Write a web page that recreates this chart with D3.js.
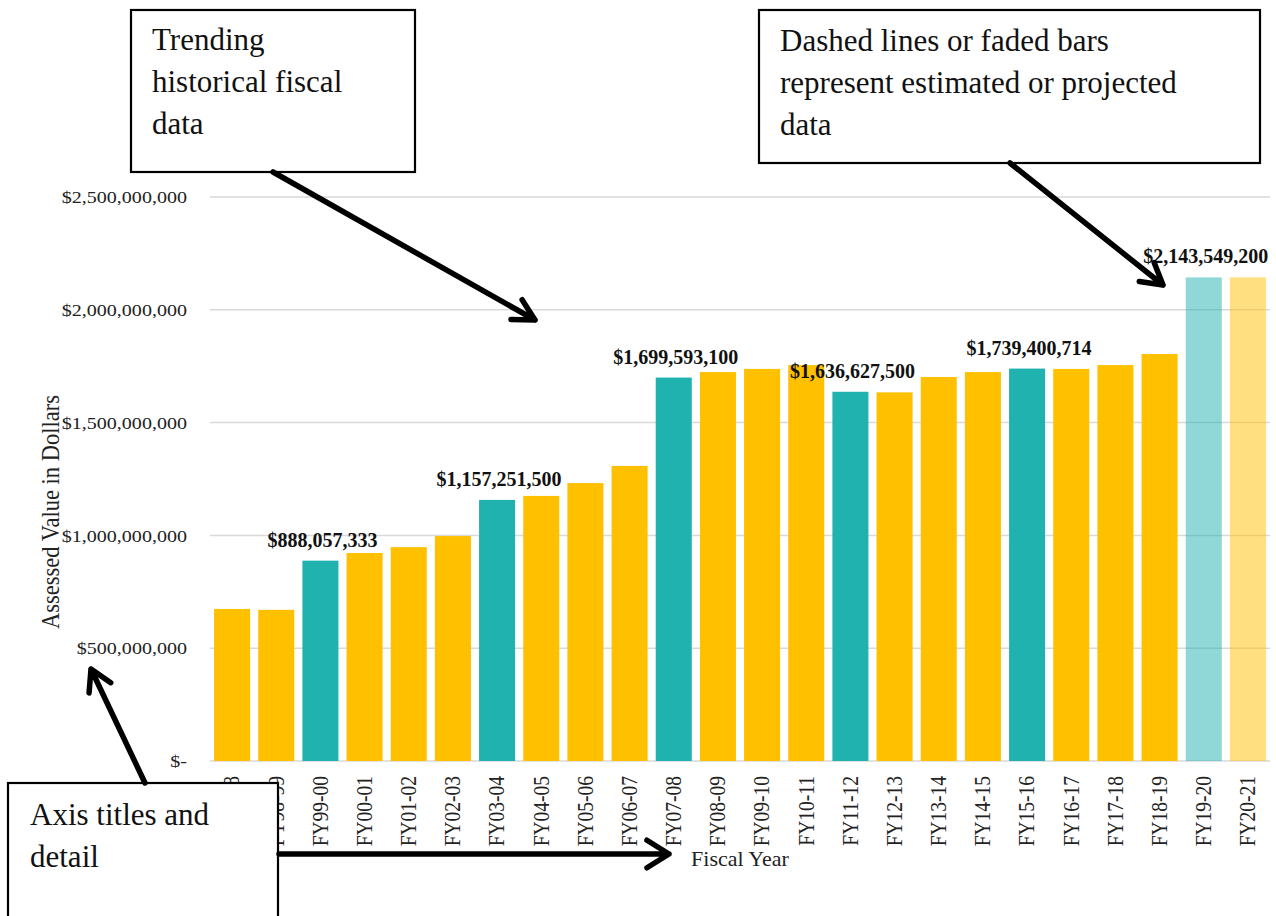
<!DOCTYPE html>
<html>
<head>
<meta charset="utf-8">
<script src="https://cdn.jsdelivr.net/npm/d3@7"></script>
<style>
  html, body { margin: 0; padding: 0; background: #fff; }
  svg { display: block; font-family: "Liberation Serif", "Times New Roman", serif; }
</style>
</head>
<body>
<svg id="chart" width="1276" height="916"></svg>
<script>
// ---- data ----
const categories = ["FY97-98","FY98-99","FY99-00","FY00-01","FY01-02","FY02-03","FY03-04","FY04-05",
  "FY05-06","FY06-07","FY07-08","FY08-09","FY09-10","FY10-11","FY11-12","FY12-13","FY13-14",
  "FY14-15","FY15-16","FY16-17","FY17-18","FY18-19","FY19-20","FY20-21"];
const values = [674000000, 670000000, 888057333, 922000000, 948000000, 997000000, 1157251500, 1175000000,
  1232000000, 1308000000, 1699593100, 1724000000, 1738000000, 1755000000, 1636627500, 1634000000, 1702000000,
  1724000000, 1739400714, 1738000000, 1755000000, 1804000000, 2143549200, 2143549200];
// reassessment years (teal) and projected (faded)
const reassessment = [false,false,true,false,false,false,true,false,false,false,true,false,false,false,true,false,false,false,true,false,false,false,true,false];
const projected = [false,false,false,false,false,false,false,false,false,false,false,false,false,false,false,false,false,false,false,false,false,false,true,true];
const yTickValues = [0, 500000000, 1000000000, 1500000000, 2000000000, 2500000000];
const yTitle = "Assessed Value in Dollars";
const xTitle = "Fiscal Year";
const notes = [
  ["Trending", "historical fiscal", "data"],
  ["Dashed lines or faded bars", "represent estimated or projected", "data"],
  ["Axis titles and", "detail"]
];

// ---- layout ----
const svg = d3.select("#chart");
const gold = "#FFC000", teal = "#20B2AF";
const x = d3.scaleBand().domain(categories).range([210, 1270]).paddingInner(0.184).paddingOuter(0.092);
const y = d3.scaleLinear().domain([0, 2500000000]).range([761, 197]);
const fmt = d3.format(",");

// gridlines
svg.append("g").selectAll("line").data(yTickValues).join("line")
  .attr("x1", 210).attr("x2", 1270)
  .attr("y1", d => y(d)).attr("y2", d => y(d))
  .attr("stroke", "#d9d9d9").attr("stroke-width", 1.5);

// y axis labels
const yAxis = d3.axisLeft(y).tickValues(yTickValues).tickSize(0)
  .tickFormat(d => d === 0 ? "$-" : "$" + fmt(d));
const gy = svg.append("g").attr("transform", "translate(210,0)").call(yAxis);
gy.select(".domain").remove();
gy.selectAll("text")
  .attr("x", -23 / 1.18).attr("dy", "0.34em")
  .attr("transform", "scale(1.18,1)")
  .attr("font-family", "Liberation Serif").attr("font-size", 17).attr("fill", "#222");

// bars
const data = categories.map((c, i) => ({c, v: values[i], r: reassessment[i], p: projected[i]}));
svg.append("g").selectAll("rect").data(data).join("rect")
  .attr("x", d => x(d.c)).attr("width", x.bandwidth())
  .attr("y", d => y(d.v)).attr("height", d => y(0) - y(d.v))
  .attr("fill", d => d.r ? teal : gold)
  .attr("fill-opacity", d => d.p ? 0.5 : 1);

// value labels
svg.append("g").selectAll("text").data(data.filter(d => d.r)).join("text")
  .attr("x", d => x(d.c) + x.bandwidth() / 2 + 2)
  .attr("y", d => y(d.v) - 14)
  .attr("text-anchor", "middle")
  .attr("font-weight", "bold").attr("font-size", 20).attr("fill", "#111")
  .text(d => "$" + fmt(d.v));

// x axis labels
const xAxis = d3.axisBottom(x).tickSize(0);
const gx = svg.append("g").attr("transform", `translate(0,${y(0)})`).call(xAxis);
gx.select(".domain").remove();
gx.selectAll("text")
  .attr("text-anchor", "end")
  .attr("x", -15).attr("y", 0).attr("dy", "0.33em")
  .attr("transform", "rotate(-90) scale(1,1.15)")
  .attr("font-family", "Liberation Serif").attr("font-size", 19.5).attr("fill", "#222");

// axis titles
svg.append("text")
  .attr("transform", "translate(59,512) rotate(-90) scale(1,1.12)")
  .attr("text-anchor", "middle").attr("font-size", 22.5).attr("fill", "#222")
  .text(yTitle);
svg.append("text")
  .attr("x", 740).attr("y", 866).attr("text-anchor", "middle")
  .attr("font-size", 22).attr("fill", "#222").text(xTitle);

// ---- annotations ----
function arrow(x1, y1, x2, y2, len = 24, ang = 30) {
  const a = Math.atan2(y2 - y1, x2 - x1) + Math.PI;
  const r = ang * Math.PI / 180;
  const p1 = [x2 + len * Math.cos(a + r), y2 + len * Math.sin(a + r)];
  const p2 = [x2 + len * Math.cos(a - r), y2 + len * Math.sin(a - r)];
  const path = d3.path();
  path.moveTo(x1, y1); path.lineTo(x2, y2);
  path.moveTo(p1[0], p1[1]); path.lineTo(x2, y2); path.lineTo(p2[0], p2[1]);
  svg.append("path").attr("d", path.toString())
    .attr("fill", "none").attr("stroke", "#000").attr("stroke-width", 5.5)
    .attr("stroke-linecap", "round").attr("stroke-linejoin", "round");
}
function box(x0, y0, w, h, lines, tx, ty, lh) {
  svg.append("rect").attr("x", x0).attr("y", y0).attr("width", w).attr("height", h)
    .attr("fill", "#fff").attr("stroke", "#000").attr("stroke-width", 2.2);
  svg.append("g").selectAll("text").data(lines).join("text")
    .attr("x", tx).attr("y", (d, i) => ty + i * lh)
    .attr("font-size", 31).attr("fill", "#111").text(d => d);
}

box(131, 10, 284, 162, notes[0], 152, 50, 42);
box(759, 10, 501, 153, notes[1], 780, 51, 42);
box(8, 783, 270, 150, notes[2], 30, 825, 42);

arrow(273, 172, 535, 320, 24, 28);
arrow(1010, 163, 1163, 285, 24, 30);
arrow(145, 783, 91, 669, 24, 30);
arrow(279, 854, 669, 854, 26, 32);
</script>
</body>
</html>
